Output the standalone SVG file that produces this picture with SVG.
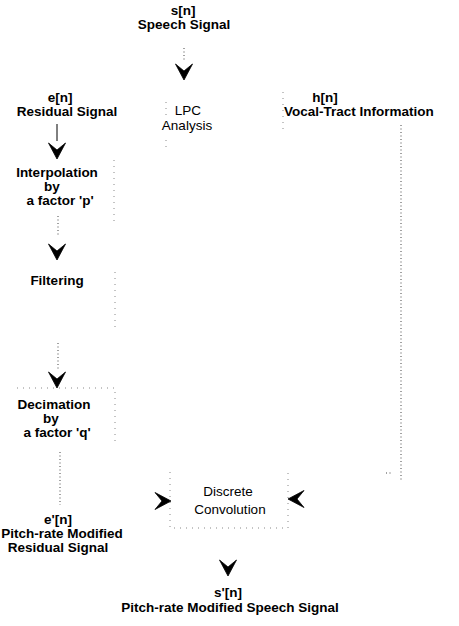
<svg xmlns="http://www.w3.org/2000/svg" width="459" height="626" viewBox="0 0 459 626">
<style>
text{font-family:"Liberation Sans",Arial,sans-serif;font-weight:bold;font-size:13.5px;fill:#000;text-anchor:middle}
.reg{font-weight:normal}
.box{fill:none;stroke:#888;stroke-width:1;stroke-dasharray:1 5}
.dot{fill:none;stroke:#444;stroke-width:1;stroke-dasharray:1 2.5}
.solid{fill:none;stroke:#000;stroke-width:1}
.ah{fill:#000;stroke:#000;stroke-width:0.8;stroke-linejoin:miter}
</style>
<defs>
<path id="ad" d="M0 0 L-8.5 -16 L0 -9 L8.5 -16 Z"/>
</defs>
<rect width="459" height="626" fill="#fff"/>
<g id="input">
<text x="183" y="15">s[n]</text>
<text x="184" y="29">Speech Signal</text>
</g>
<g id="residual">
<text x="60" y="102">e[n]</text>
<text x="67" y="116">Residual Signal</text>
</g>
<g id="lpc">
<path class="box" d="M166 102 V118 M166 140 V150 M283 92 V130"/>
<text class="reg" x="188" y="115">LPC</text>
<text class="reg" x="187" y="130">Analysis</text>
</g>
<g id="vocal">
<text x="325" y="102">h[n]</text>
<text x="284" y="116" style="text-anchor:start">Vocal-Tract Information</text>
</g>
<g id="interpolation">
<path class="box" d="M114 160 V222"/>
<text x="57" y="177">Interpolation</text>
<text x="52" y="191">by</text>
<text x="60" y="205">a factor 'p'</text>
</g>
<g id="filtering">
<path class="box" d="M115 272 V330"/>
<text x="57" y="285">Filtering</text>
</g>
<g id="decimation">
<path class="box" d="M17 388 H115 V442"/>
<text x="54" y="409">Decimation</text>
<text x="51" y="423">by</text>
<text x="57" y="437">a factor 'q'</text>
</g>
<g id="modresidual">
<text x="58" y="524">e'[n]</text>
<text x="62" y="538">Pitch-rate Modified</text>
<text x="58" y="552">Residual Signal</text>
</g>
<g id="convolution">
<path class="box" d="M170 472 V528 H288 V472"/>
<text class="reg" x="228" y="496">Discrete</text>
<text class="reg" x="230" y="514">Convolution</text>
</g>
<g id="output">
<text x="228" y="597">s'[n]</text>
<text x="230" y="612">Pitch-rate Modified Speech Signal</text>
</g>
<g id="connectors">
<path class="dot" d="M184 48 V62"/>
<use href="#ad" class="ah" transform="translate(184 80)"/>
<path class="solid" d="M57 124 V141"/>
<use href="#ad" class="ah" transform="translate(57 159)"/>
<path class="dot" d="M58 216 V236"/>
<use href="#ad" class="ah" transform="translate(57 260)"/>
<path class="dot" d="M58 343 V370"/>
<use href="#ad" class="ah" transform="translate(57 388)"/>
<path class="dot" d="M60 452 V505"/>
<use href="#ad" class="ah" transform="translate(171 501) rotate(-90)"/>
<path class="dot" d="M401 125 V482 M386 473 H392"/>
<use href="#ad" class="ah" transform="translate(288 499) rotate(90)"/>
<use href="#ad" class="ah" transform="translate(228 576)"/>
</g>
</svg>
